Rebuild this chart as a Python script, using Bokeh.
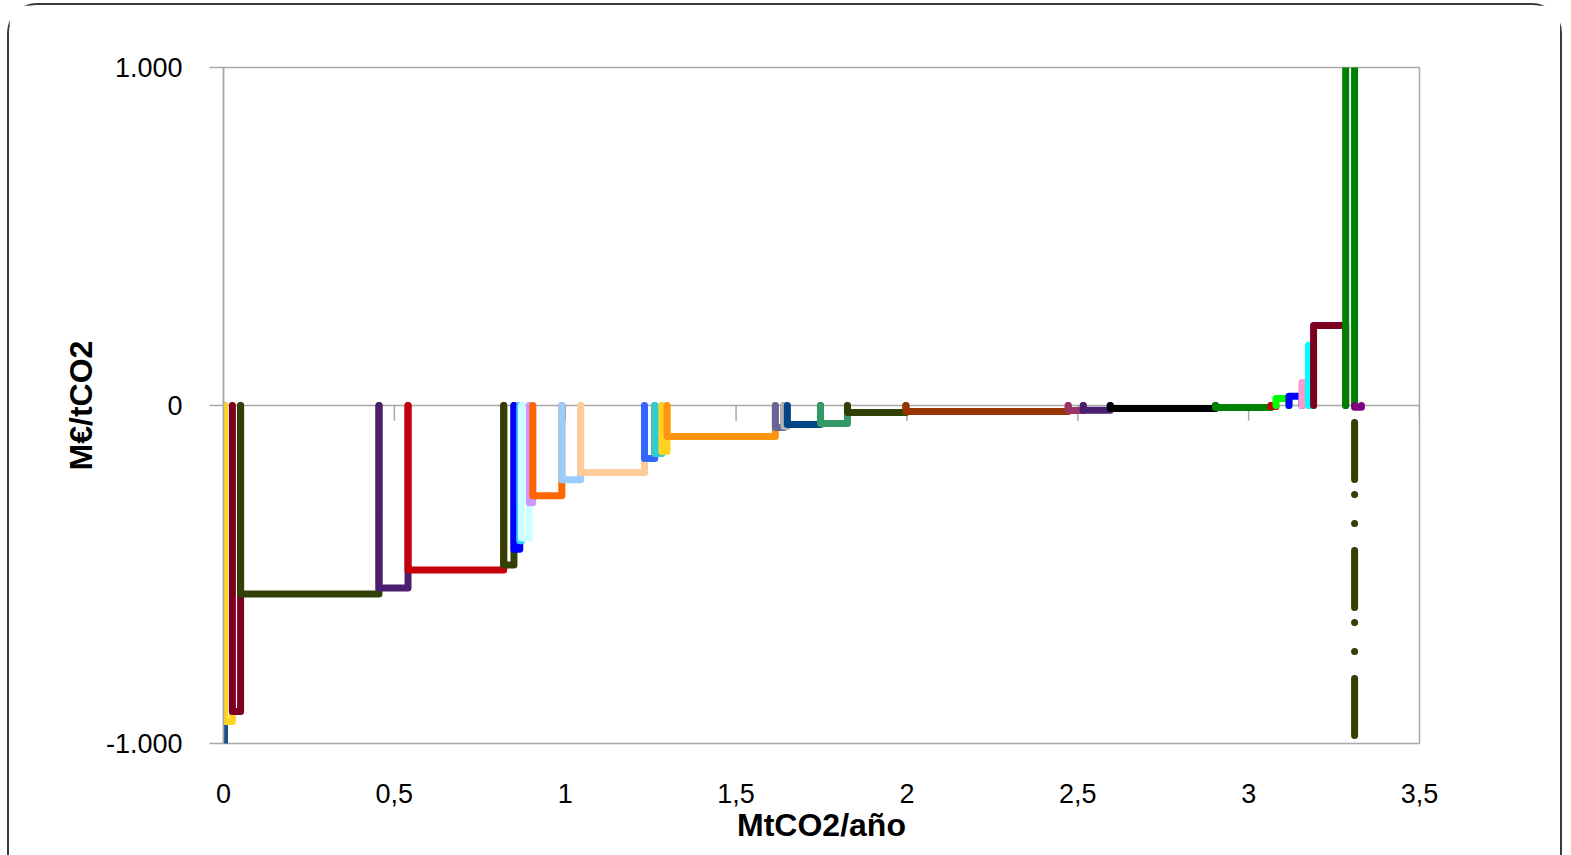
from bokeh.plotting import figure
from bokeh.models import Range1d, FixedTicker, ColumnDataSource
from bokeh.embed import file_html
from bokeh.resources import INLINE

# --- data (MtCO2/año boundaries and cost per measure) ---
limites = [0, 0.003, 0.026, 0.05, 0.455, 0.54, 0.82, 0.85, 0.867, 0.872, 0.895, 0.905,
           0.99, 1.045, 1.232, 1.262, 1.283, 1.298, 1.615, 1.64, 1.65, 1.747, 1.826,
           1.997, 2.472, 2.516, 2.595, 2.903, 3.065, 3.08, 3.118, 3.156, 3.175, 3.19,
           3.284, 3.31, 3.33]
costes = [-1010, -935, -905, -558, -540, -487, -472, -425, -400, -392, -288, -267,
          -220, -198, -157, -142, -136, -92, -65, -62, -56, -53, -21, -18, -15, -14,
          -9, -6, -3, 21, 27, 68, 178, 237, 1050, -5]
colores = ["#1C4F8C", "#FFD320", "#7E0021", "#314004", "#4B1F6F", "#C5000B", "#314004",
           "#0000FF", "#33CCFF", "#CCFFFF", "#CC99FF", "#FF6600", "#99CCFF", "#FFCC99",
           "#3366FF", "#33CCCC", "#FFD320", "#FF950E", "#666699", "#B3B3B3", "#004586",
           "#339966", "#314004", "#993300", "#993366", "#4B1F6F", "#000000", "#008000",
           "#C5000B", "#00FF00", "#0000FF", "#FF99CC", "#00FFFF", "#7E0021", "#008000",
           "#800080"]
# dash-dot marker line (x position, cost range)
linea_x = 3.31
linea_y = [-50, -985]

x_ticks = [0, 0.5, 1, 1.5, 2, 2.5, 3, 3.5]
x_labels = ["0", "0,5", "1", "1,5", "2", "2,5", "3", "3,5"]
y_ticks = [-1000, 0, 1000]
y_labels = ["-1.000", "0", "1.000"]

FONT = "Liberation Sans"
GRAY = "#A8A8A8"

xs, ys = [], []
for i, c in enumerate(costes):
    x0, x1 = limites[i], limites[i + 1]
    xs.append([x0, x0, x1, x1])
    ys.append([0, c, c, 0])
src = ColumnDataSource(dict(xs=xs, ys=ys, color=colores))

p = figure(width=1555, height=852, x_range=Range1d(0, 3.5), y_range=Range1d(-1000, 1000),
           output_backend="svg", toolbar_location=None,
           min_border_left=214, min_border_right=145, min_border_top=62, min_border_bottom=114)
p.styles = {"border": "2px solid #3A3A3A", "border-bottom": "none",
            "border-radius": "30px 30px 0 0", "margin-left": "7px", "margin-top": "3px"}

p.outline_line_color = GRAY
p.outline_line_width = 1.5
p.xgrid.visible = False
p.ygrid.ticker = FixedTicker(ticks=y_ticks)
p.ygrid.grid_line_color = GRAY
p.ygrid.grid_line_width = 1.5

# x axis: labels at the bottom
p.xaxis.ticker = FixedTicker(ticks=x_ticks)
p.xaxis.major_label_overrides = {t: l for t, l in zip(x_ticks, x_labels)}
p.xaxis.axis_line_color = None
p.xaxis.major_tick_line_color = None
p.xaxis.minor_tick_line_color = None
p.xaxis.major_tick_out = 0
p.xaxis.major_label_standoff = 40
p.xaxis.major_label_text_font = FONT
p.xaxis.major_label_text_font_size = "27px"
p.xaxis.major_label_text_color = "#000000"
p.xaxis.axis_label = "MtCO2/año"
p.xaxis.axis_label_text_font = FONT
p.xaxis.axis_label_text_font_style = "bold"
p.xaxis.axis_label_text_font_size = "32px"
p.xaxis.axis_label_standoff = 1
p.xaxis.axis_label_text_color = "#000000"

# y axis
p.yaxis.ticker = FixedTicker(ticks=y_ticks)
p.yaxis.major_label_overrides = {t: l for t, l in zip(y_ticks, y_labels)}
p.yaxis.axis_line_color = GRAY
p.yaxis.axis_line_width = 1.5
p.yaxis.major_tick_line_color = GRAY
p.yaxis.major_tick_line_width = 1.5
p.yaxis.major_tick_out = 14
p.yaxis.major_tick_in = 0
p.yaxis.minor_tick_line_color = None
p.yaxis.major_label_standoff = 27
p.yaxis.major_label_text_font = FONT
p.yaxis.major_label_text_font_size = "27px"
p.yaxis.major_label_text_color = "#000000"
p.yaxis.axis_label = "M€/tCO2"
p.yaxis.axis_label_text_font = FONT
p.yaxis.axis_label_text_font_style = "bold"
p.yaxis.axis_label_text_font_size = "32px"
p.yaxis.axis_label_standoff = 4
p.yaxis.axis_label_text_color = "#000000"

# small tick marks hanging from the zero line
p.segment(x0=x_ticks, y0=[0] * len(x_ticks), x1=x_ticks, y1=[-45] * len(x_ticks),
          line_color=GRAY, line_width=1.5)

# measures
p.multi_line(xs="xs", ys="ys", line_color="color", line_width=7,
             line_join="round", line_cap="round", source=src)

# dash-dot line
p.line(x=[linea_x, linea_x], y=linea_y, line_color="#314004", line_width=7,
       line_cap="round", line_dash="57 15 0 29 0 27")

open("out.html", "w").write(file_html(p, INLINE))
